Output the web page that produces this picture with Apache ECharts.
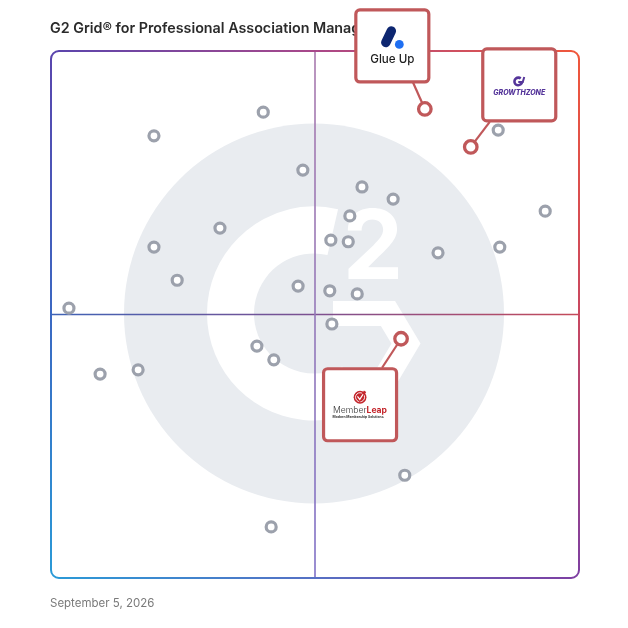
<!DOCTYPE html>
<html><head><meta charset="utf-8">
<script src="https://cdn.jsdelivr.net/npm/echarts@6/dist/echarts.min.js"></script>
<style>html,body{margin:0;padding:0;background:#fff}#c{width:628px;height:628px}</style>
</head><body><div id="c"></div>
<script>
// ---- data ----
const titleText = 'G2 Grid® for Professional Association Management';
const dateText = 'September 5, 2026';
// unnamed products (gray): x = market presence-ish, y = satisfaction-ish (0..100)
const grayX = [40.2, 19.5, 47.7, 58.9, 64.8, 56.6, 93.6, 84.7, 32.0, 19.5, 53.0, 56.3, 73.3, 85.0, 23.9, 46.8, 52.8, 58.0, 3.4, 53.2, 39.0, 42.2, 9.3, 16.5, 67.0, 41.7];
const grayY = [88.4, 83.9, 77.4, 74.2, 71.9, 68.7, 69.6, 85.0, 66.4, 62.8, 64.1, 63.8, 61.7, 62.8, 56.5, 55.4, 54.5, 53.9, 51.2, 48.2, 44.0, 41.4, 38.7, 39.5, 19.5, 9.7];
// featured products (red)
const featuredNames = ['Glue Up', 'GrowthZone', 'MemberLeap'];
const featuredX = [70.8, 79.5, 66.3];
const featuredY = [89.0, 81.8, 45.4];
const axisMin = 0, axisMax = 100, midValue = 50;

const FONT = 'Inter, "Noto Sans", sans-serif';
const chart = echarts.init(document.getElementById('c'), null, {renderer: 'canvas'});

chart.setOption({
  animation: false,
  grid: {left: 51, top: 51, right: 49, bottom: 50},
  xAxis: {type: 'value', min: axisMin, max: axisMax, show: false},
  yAxis: {type: 'value', min: axisMin, max: axisMax, show: false},
  series: [
    {
      type: 'scatter', z: 5,
      data: grayX.map((x, i) => [x, grayY[i]]),
      symbol: 'circle', symbolSize: 10,
      itemStyle: {color: '#fff', borderColor: '#9ca1ac', borderWidth: 3.2, opacity: 1},
      emphasis: {disabled: true}
    },
    {
      type: 'scatter', z: 6,
      data: featuredX.map((x, i) => ({name: featuredNames[i], value: [x, featuredY[i]]})),
      symbol: 'circle', symbolSize: 12.5,
      itemStyle: {color: '#fff', borderColor: '#c0585a', borderWidth: 3.3, opacity: 1},
      emphasis: {disabled: true}
    }
  ]
});

const P = (x, y) => chart.convertToPixel({gridIndex: 0}, [x, y]);
const [cx, cy] = P(midValue, midValue);
const [L, T] = P(axisMin, axisMax);
const [R, B] = P(axisMax, axisMin);

const LG = (x0, y0, x1, y1, c0, c1, mid) => {
  const stops = [{offset: 0, color: c0}];
  if (mid) stops.push({offset: 0.5, color: mid});
  stops.push({offset: 1, color: c1});
  return new echarts.graphic.LinearGradient(x0, y0, x1, y1, stops, true);
};

const g = [];
// ---- G2 watermark ----
g.push({type: 'circle', z: 0, silent: true, shape: {cx: cx - 1, cy: cy - 1, r: 190}, style: {fill: '#e9ecf0'}});
g.push({type: 'sector', z: 0, silent: true,
  shape: {cx: cx - 1, cy: cy - 1, r: 107, r0: 60, startAngle: 62 * Math.PI / 180, endAngle: 283 * Math.PI / 180, clockwise: true},
  style: {fill: '#fff'}});
g.push({type: 'polyline', z: 0, silent: true,
  shape: {points: [[cx + 18, cy - 1], [cx + 73, cy - 1], [cx + 91, cy + 29], [cx + 62, cy + 78]]},
  style: {stroke: '#fff', lineWidth: 25, fill: null, lineJoin: 'miter'}});
g.push({type: 'text', z: 0, silent: true,
  style: {text: '2', x: cx + 58, y: cy - 64, fill: '#fff', font: '700 96px ' + FONT,
    textAlign: 'center', textVerticalAlign: 'middle', align: 'center', verticalAlign: 'middle'}});

// ---- quadrant lines ----
g.push({type: 'line', z: 1, silent: true, shape: {x1: L, y1: cy, x2: R, y2: cy},
  style: {stroke: LG(L, cy, R, cy, '#3f63b6', '#c54a5a', '#7d5090'), lineWidth: 1.6}});
g.push({type: 'line', z: 1, silent: true, shape: {x1: cx, y1: T, x2: cx, y2: B},
  style: {stroke: LG(cx, T, cx, B, '#a97aae', '#7f70c6', '#9478b8'), lineWidth: 1.6}});

// ---- gradient border ----
const r = 8;
const cTL = '#5a45ad', cTR = '#f0573b', cBR = '#7e3fa2', cBL = '#2a9ad7';
const bw = 2;
g.push({type: 'line', z: 1, silent: true, shape: {x1: L + r, y1: T, x2: R - r, y2: T}, style: {stroke: LG(L, T, R, T, cTL, cTR, '#a9488a'), lineWidth: bw}});
g.push({type: 'line', z: 1, silent: true, shape: {x1: R, y1: T + r, x2: R, y2: B - r}, style: {stroke: LG(R, T, R, B, cTR, cBR, '#c94860'), lineWidth: bw}});
g.push({type: 'line', z: 1, silent: true, shape: {x1: L + r, y1: B, x2: R - r, y2: B}, style: {stroke: LG(L, B, R, B, cBL, cBR, '#5670c4'), lineWidth: bw}});
g.push({type: 'line', z: 1, silent: true, shape: {x1: L, y1: T + r, x2: L, y2: B - r}, style: {stroke: LG(L, T, L, B, cTL, cBL, '#3b68c2'), lineWidth: bw}});
const arcs = [[L + r, T + r, Math.PI, 1.5 * Math.PI, cTL], [R - r, T + r, 1.5 * Math.PI, 2 * Math.PI, cTR],
              [R - r, B - r, 0, 0.5 * Math.PI, cBR], [L + r, B - r, 0.5 * Math.PI, Math.PI, cBL]];
arcs.forEach(a => g.push({type: 'arc', z: 1, silent: true, shape: {cx: a[0], cy: a[1], r: r, startAngle: a[2], endAngle: a[3], clockwise: true},
  style: {stroke: a[4], lineWidth: bw, fill: null}}));

// ---- title & date ----
g.push({type: 'text', z: 0, silent: true, style: {text: titleText, x: L - 1, y: 29, fill: '#2b2b2b', font: '600 14.3px ' + FONT,
  textAlign: 'left', textVerticalAlign: 'middle', align: 'left', verticalAlign: 'middle'}});
g.push({type: 'text', z: 0, silent: true, style: {text: dateText, x: L - 1, y: 604, fill: '#7a7a7a', font: '400 11.5px ' + FONT,
  textAlign: 'left', textVerticalAlign: 'middle', align: 'left', verticalAlign: 'middle'}});

// ---- callout boxes ----
const boxW = 73, boxH = 72;
const callouts = [
  {dx: -32.5, dy: -63, ax: -12, ay: -27},
  {dx: 48.5, dy: -62, ax: 19, ay: -25},
  {dx: -41, dy: 66, ax: -19, ay: 29}
];
const RED = '#c0585a';
function txt(text, x, y, font, fill, extra) {
  return Object.assign({type: 'text', z: 11, silent: true, style: Object.assign({text, x, y, font, fill,
    textAlign: 'center', textVerticalAlign: 'middle', align: 'center', verticalAlign: 'middle'}, extra || {})});
}
featuredNames.forEach((name, i) => {
  const [px, py] = P(featuredX[i], featuredY[i]);
  const c = callouts[i];
  const bx = px + c.dx, by = py + c.dy;
  g.push({type: 'line', z: 3, silent: true, shape: {x1: px, y1: py, x2: px + c.ax, y2: py + c.ay}, style: {stroke: RED, lineWidth: 2.2}});
  g.push({type: 'rect', z: 10, silent: true, shape: {x: bx - boxW / 2, y: by - boxH / 2, width: boxW, height: boxH, r: 4},
    style: {fill: '#fff', stroke: RED, lineWidth: 3.2}});
  if (i === 0) {
    g.push({type: 'line', z: 11, silent: true, shape: {x1: bx - 1, y1: by - 15, x2: bx - 6.5, y2: by - 3.5},
      style: {stroke: '#0d2670', lineWidth: 9.5, lineCap: 'round'}});
    g.push({type: 'circle', z: 11, silent: true, shape: {cx: bx + 7, cy: by - 1.5, r: 4.4}, style: {fill: '#1f6ff2'}});
    g.push(txt('Glue Up', bx, by + 14, '500 11.6px ' + FONT, '#1e1e1e'));
  } else if (i === 1) {
    const ix = bx - 1, iy = by - 3.5;
    g.push({type: 'arc', z: 11, silent: true, shape: {cx: ix, cy: iy, r: 3.8, startAngle: 0.1, endAngle: 5.4, clockwise: true},
      style: {stroke: '#55359a', lineWidth: 2.6, fill: null}});
    g.push({type: 'polyline', z: 11, silent: true, shape: {points: [[ix, iy + 0.5], [ix + 4.5, iy + 0.5], [ix + 6, iy - 4.5]]},
      style: {stroke: '#55359a', lineWidth: 2, fill: null}});
    g.push(txt('GROWTHZONE', bx, by + 7.8, 'italic 800 7px ' + FONT, '#55359a'));
  } else {
    const ix = bx, iy = by - 7.5;
    g.push({type: 'circle', z: 11, silent: true, shape: {cx: ix, cy: iy, r: 6.4}, style: {fill: '#c4262c'}});
    g.push({type: 'circle', z: 11, silent: true, shape: {cx: ix, cy: iy, r: 4.5}, style: {fill: null, stroke: '#fff', lineWidth: 0.9}});
    g.push({type: 'polyline', z: 12, silent: true, shape: {points: [[ix - 3, iy - 1.2], [ix - 0.3, iy + 2.8], [ix + 5, iy - 6]]},
      style: {stroke: '#c4262c', lineWidth: 2.6, fill: null}});
    g.push({type: 'polyline', z: 12, silent: true, shape: {points: [[ix - 2.6, iy - 0.8], [ix - 0.3, iy + 2.2], [ix + 3, iy - 3]]},
      style: {stroke: '#fff', lineWidth: 1.2, fill: null}});
    g.push({type: 'text', z: 11, silent: true, style: {text: '{a|Member}{b|Leap}', x: bx, y: by + 6,
      textAlign: 'center', textVerticalAlign: 'middle', align: 'center', verticalAlign: 'middle',
      rich: {a: {font: '300 8.6px ' + FONT, fill: '#333', color: '#333'}, b: {font: '700 8.6px ' + FONT, fill: '#c4262c', color: '#c4262c'}}}});
    g.push(txt('Modern Membership Solutions', bx - 2, by + 12, '700 3.4px ' + FONT, '#333'));
  }
});

chart.setOption({graphic: {elements: g}});
</script>
</body></html>
